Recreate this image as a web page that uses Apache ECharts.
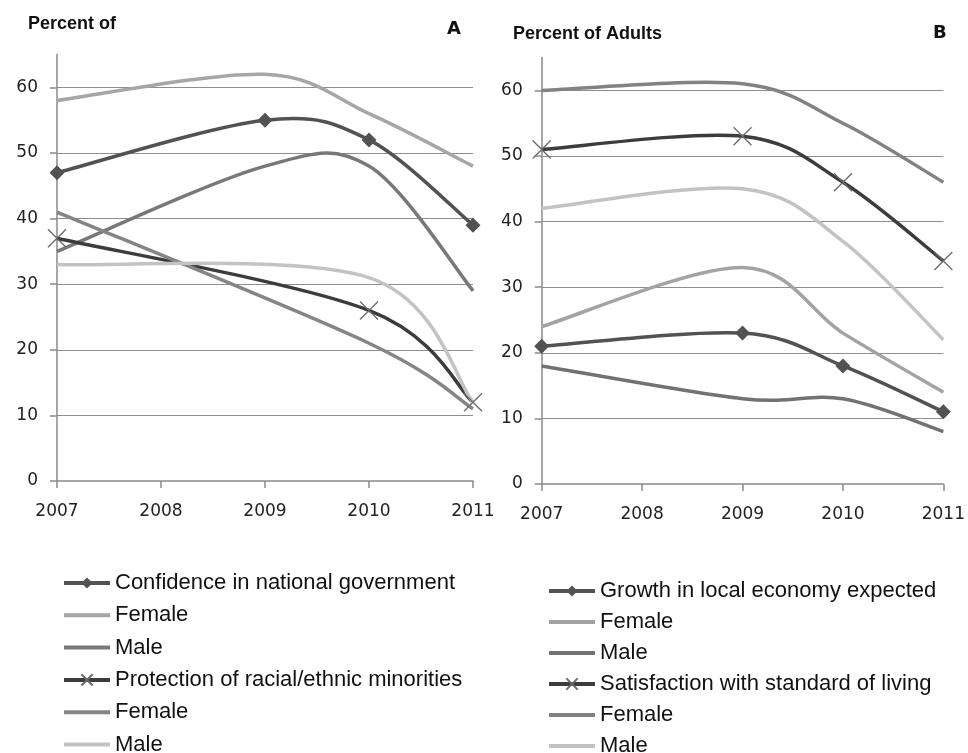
<!DOCTYPE html>
<html>
<head>
<meta charset="utf-8">
<script src="https://cdn.jsdelivr.net/npm/echarts@6/dist/echarts.min.js"></script>
<style>
  html, body { margin: 0; padding: 0; background: #ffffff; }
  #chart { width: 968px; height: 753px; }
</style>
</head>
<body>
<div id="chart"></div>
<script>
// Axis ticks
const yearTicks = [2007, 2008, 2009, 2010, 2011];
const percentTicks = [0, 10, 20, 30, 40, 50, 60];

// Panel A: confidence in national government (surveyed years)
const yearsConfidence = [2007, 2009, 2010, 2011];
const confidence = [47, 55, 52, 39];
const confidenceFemale = [58, 62, 56, 48];
const confidenceMale = [35, 48, 48, 29];

// Panel A: protection of racial/ethnic minorities
const yearsProtection = [2007, 2010, 2011];
const protection = [37, 26, 12];
const protectionFemale = [41, 21, 11];
const protectionMale = [33, 31, 12];

// Panel B: growth in local economy expected
const yearsGrowth = [2007, 2009, 2010, 2011];
const growth = [21, 23, 18, 11];
const growthFemale = [24, 33, 23, 14];
const growthMale = [18, 13, 13, 8];

// Panel B: satisfaction with standard of living
const yearsSatisfaction = [2007, 2009, 2010, 2011];
const satisfaction = [51, 53, 46, 34];
const satisfactionFemale = [60, 61, 55, 46];
const satisfactionMale = [42, 45, 37, 22];

const CROSS = 'path://M0,0L10,10M10,0L0,10';

const panels = [
  [
    { id: 'confidence', label: 'Confidence in national government', years: yearsConfidence, values: confidence, color: '#525252', marker: 'diamond' },
    { id: 'confidenceFemale', label: 'Female', years: yearsConfidence, values: confidenceFemale, color: '#a6a6a6' },
    { id: 'confidenceMale', label: 'Male', years: yearsConfidence, values: confidenceMale, color: '#787878' },
    { id: 'protection', label: 'Protection of racial/ethnic minorities', years: yearsProtection, values: protection, color: '#3c3c3c', marker: 'cross' },
    { id: 'protectionFemale', label: 'Female', years: yearsProtection, values: protectionFemale, color: '#858585' },
    { id: 'protectionMale', label: 'Male', years: yearsProtection, values: protectionMale, color: '#c3c3c3' }
  ],
  [
    { id: 'growth', label: 'Growth in local economy expected', years: yearsGrowth, values: growth, color: '#525252', marker: 'diamond' },
    { id: 'growthFemale', label: 'Female', years: yearsGrowth, values: growthFemale, color: '#a3a3a3' },
    { id: 'growthMale', label: 'Male', years: yearsGrowth, values: growthMale, color: '#727272' },
    { id: 'satisfaction', label: 'Satisfaction with standard of living', years: yearsSatisfaction, values: satisfaction, color: '#3c3c3c', marker: 'cross' },
    { id: 'satisfactionFemale', label: 'Female', years: yearsSatisfaction, values: satisfactionFemale, color: '#828282' },
    { id: 'satisfactionMale', label: 'Male', years: yearsSatisfaction, values: satisfactionMale, color: '#c3c3c3' }
  ]
];

const labelById = {};
panels.forEach(list => list.forEach(d => { labelById[d.id] = d.label; }));

// Smoothed curve through the points, Bezier tangents of (next - prev) / 6
function smoothPath(pts) {
  let d = 'M ' + pts[0][0] + ' ' + pts[0][1];
  for (let i = 0; i < pts.length - 1; i++) {
    const p0 = pts[Math.max(i - 1, 0)];
    const p1 = pts[i];
    const p2 = pts[i + 1];
    const p3 = pts[Math.min(i + 2, pts.length - 1)];
    const c1x = p1[0] + (p2[0] - p0[0]) / 6;
    const c1y = p1[1] + (p2[1] - p0[1]) / 6;
    const c2x = p2[0] - (p3[0] - p1[0]) / 6;
    const c2y = p2[1] - (p3[1] - p1[1]) / 6;
    d += ' C ' + [c1x, c1y, c2x, c2y, p2[0], p2[1]].join(' ');
  }
  return d;
}

const LINE_W = 3.5;
const series = [];
panels.forEach((list, p) => {
  list.forEach(def => {
    const pairs = def.years.map((yr, i) => [yr, def.values[i]]);
    // curve
    series.push({
      type: 'custom',
      name: def.id + '-curve',
      xAxisIndex: p,
      yAxisIndex: p,
      data: pairs,
      silent: true,
      clip: false,
      z: 2,
      renderItem: function (params, api) {
        if (params.dataIndex !== 0) return null;
        const pts = def.years.map((yr, i) => api.coord([yr, def.values[i]]));
        return {
          type: 'path',
          shape: { pathData: smoothPath(pts) },
          style: { fill: 'none', stroke: def.color, lineWidth: LINE_W, lineJoin: 'round' }
        };
      }
    });
    // markers and legend entry
    const isCross = def.marker === 'cross';
    series.push({
      type: 'line',
      name: def.id,
      xAxisIndex: p,
      yAxisIndex: p,
      data: pairs,
      color: def.color,
      symbol: def.marker ? (isCross ? CROSS : 'diamond') : 'none',
      symbolSize: isCross ? 18 : 15,
      showAllSymbol: true,
      silent: true,
      z: 3,
      lineStyle: { color: def.color, width: LINE_W, opacity: 0 },
      itemStyle: isCross
        ? { color: 'rgba(0,0,0,0)', borderColor: '#6a6a6a', borderWidth: 1.3 }
        : { color: def.color }
    });
  });
});

const axisGray = '#8a8a8a';
const tickFont = { fontFamily: 'DejaVu Sans', fontSize: 17, color: '#222222' };

function makeX(p) {
  return {
    type: 'value', gridIndex: p, min: 2007, max: 2011, interval: 1,
    axisLine: { show: true, onZero: false, lineStyle: { color: axisGray, width: 1.5 } },
    axisTick: { show: true, length: 7, lineStyle: { color: axisGray, width: 1.5 }, customValues: yearTicks },
    axisLabel: Object.assign({ margin: 22, formatter: v => String(v), customValues: yearTicks }, tickFont),
    splitLine: { show: false }
  };
}
function makeY(p) {
  return {
    type: 'value', gridIndex: p, min: 0, max: 65, interval: 10,
    axisLine: { show: true, onZero: false, lineStyle: { color: axisGray, width: 1.5 } },
    axisTick: { show: true, length: 7, lineStyle: { color: axisGray, width: 1.5 }, customValues: percentTicks },
    axisLabel: Object.assign({ margin: 19, customValues: percentTicks }, tickFont),
    splitLine: { show: true, showMinLine: false, lineStyle: { color: '#8e8e8e', width: 1 } }
  };
}

function makeLegend(p, left, top, gap) {
  return {
    orient: 'vertical', left: left, top: top, height: 400, padding: 0, itemGap: gap,
    itemWidth: 46, itemHeight: 14,
    selectedMode: false,
    textStyle: { fontFamily: 'Liberation Sans', fontSize: 22, lineHeight: 22, color: '#111111' },
    lineStyle: { width: 4, opacity: 1 },
    formatter: name => labelById[name],
    data: panels[p].map(d => d.marker ? { name: d.id } : { name: d.id, itemStyle: { opacity: 0 } })
  };
}

const titleFont = { fontFamily: 'Liberation Sans', fontWeight: 'bold', fontSize: 18, color: '#111111' };
const letterFont = { fontFamily: 'DejaVu Sans', fontWeight: 'bold', fontSize: 18, color: '#111111' };

const chart = echarts.init(document.getElementById('chart'), null, { renderer: 'canvas' });
chart.setOption({
  animation: false,
  backgroundColor: '#ffffff',
  title: [
    { text: 'Percent of', left: 28, top: 15, padding: 0, textStyle: titleFont },
    { text: 'A', left: 447, top: 20, padding: 0, textStyle: letterFont },
    { text: 'Percent of Adults', left: 513, top: 25, padding: 0, textStyle: titleFont },
    { text: 'B', left: 933, top: 24, padding: 0, textStyle: letterFont }
  ],
  grid: [
    { left: 57, top: 54.6, width: 416, height: 426.4 },
    { left: 541.7, top: 57.6, width: 404.5, height: 426.4 }
  ],
  xAxis: [makeX(0), makeX(1)],
  yAxis: [makeY(0), makeY(1)],
  legend: [makeLegend(0, 62, 572, 10.3), makeLegend(1, 547, 580, 9)],
  series: series
});
</script>
</body>
</html>
